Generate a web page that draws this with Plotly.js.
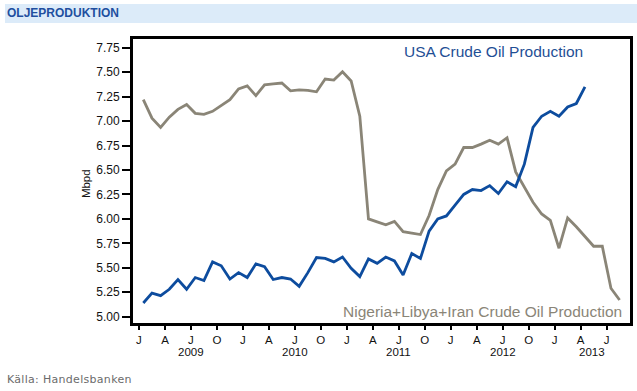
<!DOCTYPE html>
<html>
<head>
<meta charset="utf-8">
<script src="https://cdn.plot.ly/plotly-3.0.1.min.js"></script>
<style>
  html, body { margin: 0; padding: 0; background: #fff; }
  #wrap { position: relative; width: 637px; height: 391px; overflow: hidden; }
  #band { position: absolute; left: 5px; top: 4px; width: 632px; height: 19px; background: #dcebf9; }
  #hdr { position: absolute; left: 7px; top: 6px; font: bold 12px "Liberation Sans", Arial, sans-serif; color: #1f4f9f; }
  #src { position: absolute; left: 7px; top: 373px; font: 11px "DejaVu Sans", "Liberation Sans", sans-serif; color: #6b6b6b; letter-spacing: 0.3px; }
  #chart { position: absolute; left: 0; top: 0; width: 637px; height: 391px; }
</style>
</head>
<body>
<div id="wrap">
  <div id="band"></div>
  <div id="chart"></div>
  <div id="hdr">OLJEPRODUKTION</div>
  <div id="src">Källa: Handelsbanken</div>
</div>
<script>
// Monthly data, Jan 2009 onward (index 0 = Jan 2009)
const usaValues = [5.14, 5.24, 5.215, 5.28, 5.38, 5.28, 5.40, 5.37, 5.56, 5.52, 5.385, 5.45,
                   5.40, 5.54, 5.51, 5.38, 5.40, 5.385, 5.31, 5.45, 5.605, 5.595, 5.56, 5.61,
                   5.495, 5.41, 5.59, 5.545, 5.61, 5.57, 5.425, 5.645, 5.595, 5.875, 6.00, 6.03,
                   6.14, 6.25, 6.30, 6.29, 6.34, 6.26, 6.38, 6.33, 6.56, 6.935, 7.05, 7.10,
                   7.05, 7.145, 7.18, 7.35];
const nliValues = [7.22, 7.03, 6.935, 7.04, 7.12, 7.17, 7.08, 7.07, 7.10, 7.16, 7.22, 7.33,
                   7.36, 7.26, 7.37, 7.38, 7.39, 7.31, 7.32, 7.315, 7.30, 7.43, 7.42, 7.505,
                   7.41, 7.05, 6.00, 5.97, 5.94, 5.975, 5.87, 5.855, 5.84, 6.035, 6.30, 6.49,
                   6.56, 6.73, 6.73, 6.765, 6.805, 6.765, 6.83, 6.48, 6.32, 6.17, 6.05, 5.985,
                   5.70, 6.01, 5.92, 5.82, 5.72, 5.72, 5.29, 5.17];
const tickLabels = ["J","A","J","O","J","A","J","O","J","A","J","O","J","A","J","O","J","A","J"];
const years = ["2009","2010","2011","2012","2013"];
const yearPos = [6, 18, 30, 42, 52.3];
const seriesNames = ["USA Crude Oil Production", "Nigeria+Libya+Iran Crude Oil Production"];

const monthX = arr => arr.map((_, i) => i + 0.5);
const tickVals = tickLabels.map((_, i) => i * 3);

const FONT = '"Liberation Sans", Arial, sans-serif';
const BLUE = '#0d4c9e';
const GRAY = '#8a8577';

const traces = [
  { x: monthX(nliValues), y: nliValues, type: 'scatter', mode: 'lines', name: seriesNames[1],
    line: { color: GRAY, width: 2.8 }, hoverinfo: 'skip' },
  { x: monthX(usaValues), y: usaValues, type: 'scatter', mode: 'lines', name: seriesNames[0],
    line: { color: BLUE, width: 2.8 }, hoverinfo: 'skip' }
];

const annotations = [
  { text: seriesNames[0], xref: 'paper', yref: 'paper', x: 0.726, y: 0.955, xanchor: 'center', yanchor: 'middle',
    showarrow: false, font: { family: FONT, size: 15.5, color: '#1f4f95' } },
  { text: seriesNames[1], xref: 'paper', yref: 'paper', x: 0.988, y: 0.042, xanchor: 'right', yanchor: 'middle',
    showarrow: false, font: { family: FONT, size: 15.5, color: '#8a8577' } },
  { text: 'Mbpd', xref: 'paper', yref: 'paper', x: -0.094, y: 0.49, textangle: -90, xanchor: 'center', yanchor: 'middle',
    showarrow: false, font: { family: FONT, size: 11.5, color: '#111' } }
].concat(years.map((t, i) => ({
  text: t, xref: 'x', yref: 'paper', x: yearPos[i], y: 0, yanchor: 'top', yshift: -21,
  showarrow: false, font: { family: FONT, size: 11.5, color: '#111' }
})));

const layout = {
  width: 637, height: 391,
  margin: { l: 133, r: 7, t: 39, b: 68, pad: 0 },
  paper_bgcolor: 'rgba(0,0,0,0)', plot_bgcolor: '#fff',
  showlegend: false,
  font: { family: FONT, size: 12, color: '#111' },
  xaxis: {
    range: [-0.69, 56.7], tickmode: 'array', tickvals: tickVals, ticktext: tickLabels,
    ticks: 'outside', ticklen: 4, tickwidth: 2, tickcolor: '#000',
    showline: true, linewidth: 3, linecolor: '#000', mirror: true,
    showgrid: false, zeroline: false, tickfont: { family: FONT, size: 11.5, color: '#111' }
  },
  yaxis: {
    range: [4.935, 7.84], tickmode: 'array',
    tickvals: [5, 5.25, 5.5, 5.75, 6, 6.25, 6.5, 6.75, 7, 7.25, 7.5, 7.75],
    tickformat: '.2f',
    ticks: 'outside', ticklen: 8, tickwidth: 2, tickcolor: '#000',
    showline: true, linewidth: 3, linecolor: '#000', mirror: true,
    showgrid: false, zeroline: false, tickfont: { family: FONT, size: 12, color: '#111' }
  },
  annotations: annotations
};

Plotly.newPlot('chart', traces, layout, { staticPlot: true, displayModeBar: false });
</script>
</body>
</html>
